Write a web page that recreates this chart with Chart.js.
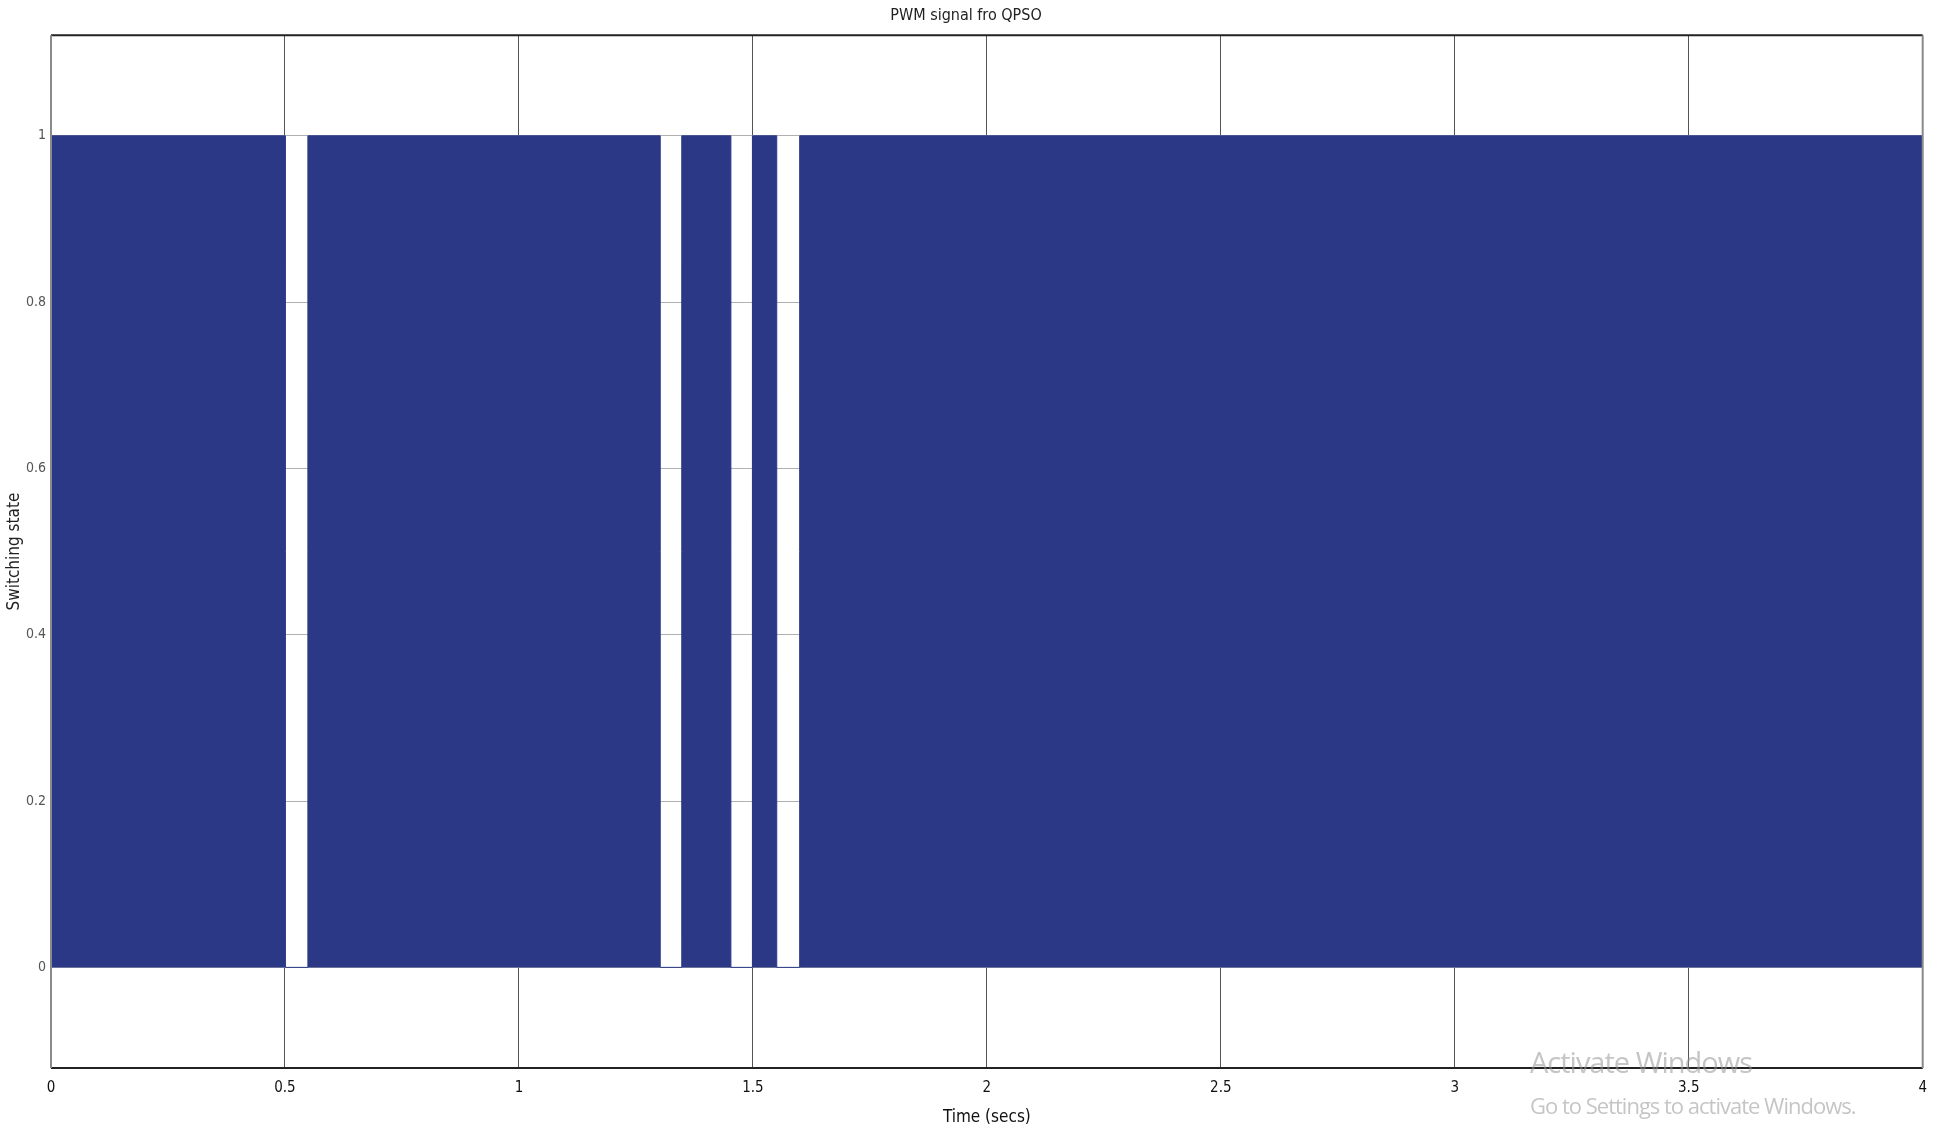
<!DOCTYPE html>
<html>
<head>
<meta charset="utf-8">
<script src="https://cdn.jsdelivr.net/npm/chart.js@4"></script>
<style>
  body { margin: 0; background: #fff; }
  #wrap { position: relative; width: 1938px; height: 1137px; }
  .wm { position: absolute; color: rgba(150,150,150,0.55); font-family: 'Open Sans', 'DejaVu Sans', sans-serif; white-space: nowrap; letter-spacing: -1px; }
</style>
</head>
<body>
<div id="wrap">
  <canvas id="chart" width="1938" height="1137"></canvas>
  <div class="wm" style="left:1530px; top:1042px; font-size:29px;">Activate Windows</div>
  <div class="wm" style="left:1530px; top:1090px; font-size:22px;">Go to Settings to activate Windows.</div>
</div>
<script>
// switching instants (s) and the level held from each instant until the next one
const switchTimes  = [0, 0.501, 0.549, 1.302, 1.348, 1.453, 1.499, 1.551, 1.600, 4];
const switchLevels = [1, 0,     1,     0,     1,     0,     1,     0,     1,     1];

const xTicks = [0, 0.5, 1, 1.5, 2, 2.5, 3, 3.5, 4];
const yTicks = [0, 0.2, 0.4, 0.6, 0.8, 1];

const narrow = "'Liberation Sans Narrow', 'DejaVu Sans Condensed', 'Liberation Sans', sans-serif";
const blue = 'rgb(43,56,134)';

const points = switchTimes.map((t, i) => ({ x: t, y: switchLevels[i] }));

// scope style frame: black top/bottom, grey sides
const framePlugin = {
  id: 'frame',
  afterDraw(chart) {
    const { ctx, chartArea: a } = chart;
    ctx.save();
    ctx.lineWidth = 2;
    ctx.strokeStyle = '#222';
    ctx.beginPath();
    ctx.moveTo(a.left, a.top); ctx.lineTo(a.right, a.top);
    ctx.moveTo(a.left, a.bottom); ctx.lineTo(a.right, a.bottom);
    ctx.stroke();
    ctx.strokeStyle = '#8a8a8a';
    ctx.beginPath();
    ctx.moveTo(a.left, a.top); ctx.lineTo(a.left, a.bottom);
    ctx.moveTo(a.right, a.top); ctx.lineTo(a.right, a.bottom);
    ctx.stroke();
    ctx.restore();
  }
};

const chart = document.getElementById('chart');

new Chart(chart, {
  type: 'line',
  data: {
    datasets: [{
      label: 'PWM',
      data: points,
      stepped: true,
      borderColor: blue,
      borderWidth: 1,
      backgroundColor: blue,
      fill: 'origin',
      pointRadius: 0
    }]
  },
  options: {
    responsive: false,
    animation: false,
    devicePixelRatio: 1,
    layout: { padding: { left: 0, right: 6, top: 0, bottom: 0 } },
    plugins: {
      legend: { display: false },
      tooltip: { enabled: false },
      title: {
        display: true,
        text: 'PWM signal fro QPSO',
        color: '#222',
        font: { family: narrow, size: 16, weight: 'normal' },
        padding: { top: 6, bottom: 10 }
      }
    },
    scales: {
      x: {
        type: 'linear',
        min: 0,
        max: 4,
        afterBuildTicks: s => { s.ticks = xTicks.map(v => ({ value: v })); },
        afterFit: s => { s.height = 69; },
        grid: { color: '#555', lineWidth: 1, drawTicks: false },
        border: { display: false },
        ticks: {
          autoSkip: false,
          maxRotation: 0,
          padding: 11,
          color: '#111',
          font: { family: narrow, size: 15 },
          callback: v => String(v)
        },
        title: {
          display: true,
          text: 'Time (secs)',
          color: '#111',
          font: { family: narrow, size: 17 },
          padding: { top: 2, bottom: 9 }
        }
      },
      y: {
        min: -0.121,
        max: 1.121,
        afterBuildTicks: s => { s.ticks = yTicks.map(v => ({ value: v })); },
        afterFit: s => { s.width = 51; },
        grid: { color: '#b0b0b0', lineWidth: 1, drawTicks: false },
        border: { display: false },
        ticks: {
          padding: 5,
          color: '#555',
          font: { family: narrow, size: 14 },
          callback: v => String(v)
        },
        title: {
          display: true,
          text: 'Switching state',
          color: '#222',
          font: { family: narrow, size: 17 },
          padding: { top: 4, bottom: 0 }
        }
      }
    }
  },
  plugins: [framePlugin]
});
</script>
</body>
</html>
